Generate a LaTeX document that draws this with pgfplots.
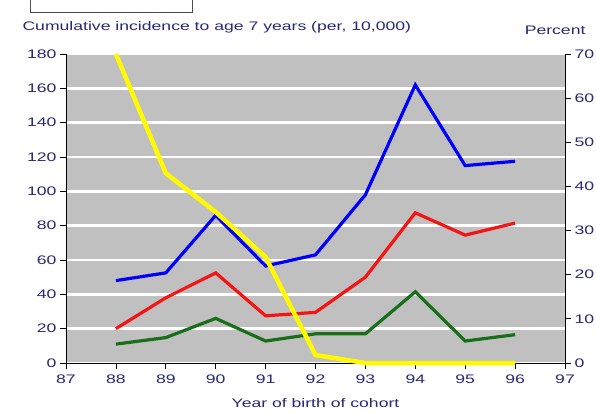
\documentclass[border=0pt]{standalone}
\usepackage{pgfplots}
\pgfplotsset{compat=1.18}
\usepackage{fontspec}
\setmainfont{Liberation Sans}[FakeStretch=1.42]

\definecolor{navytext}{RGB}{40,40,120}
\definecolor{bggray}{RGB}{192,192,192}
\definecolor{lblue}{RGB}{0,0,250}
\definecolor{lred}{RGB}{245,20,20}
\definecolor{lgreen}{RGB}{25,110,25}
\definecolor{lyellow}{RGB}{255,250,0}

\pgfplotsset{
  common/.style={
    scale only axis, width=499pt, height=309pt,
    at={(0,0)}, anchor=south west,
    xmin=87, xmax=97, clip=false,
    tick align=outside, major tick length=6pt,
    tick style={black, line width=0.8pt},
    axis line style={black, line width=0.9pt, -},
    ticklabel style={text=navytext, font=\fontsize{12.4}{14}\selectfont},
    /pgf/number format/assume math mode=true,
  },
}

\begin{document}
\begin{tikzpicture}
\path[use as bounding box] (-66pt,-49pt) rectangle (530pt,363pt);

% left axis: incidence per 10,000
\begin{axis}[common,
    ymin=0, ymax=180,
    xtick={87,...,97}, ytick={0,20,...,180},
    axis x line*=bottom, axis y line*=left,
    xticklabel style={yshift=-2pt},
    ymajorgrids, major grid style={white, line width=2.5pt},
    axis background/.style={fill=bggray},
]
\addplot[lblue, line width=3.2pt] coordinates {
  (88,48) (89,52.5) (90,86) (91,56.5) (92,63) (93,98) (94,162) (95,115) (96,117.5)
};
\addplot[lred, line width=3.2pt] coordinates {
  (88,20) (89,38) (90,52.5) (91,27.5) (92,29.5) (93,50) (94,87.5) (95,74.5) (96,81.5)
};
\addplot[lgreen, line width=3.2pt] coordinates {
  (88,11) (89,14.8) (90,26) (91,12.8) (92,17) (93,17) (94,41.5) (95,12.8) (96,16.5)
};
\end{axis}

% right axis: percent
\begin{axis}[common,
    ymin=0, ymax=70,
    ytick={0,10,...,70},
    axis x line=none, axis y line*=right,
]
\addplot[lyellow, line width=4.5pt] coordinates {
  (88,70) (89,43) (90,34.2) (91,24) (92,1.8) (93,0) (94,0) (95,0) (96,0)
};
\end{axis}

\node[anchor=west, text=navytext, font=\fontsize{12.4}{14}\selectfont] at (-47pt,336pt)
  {Cumulative incidence to age 7 years (per, 10,000)};
\node[anchor=east, text=navytext, font=\fontsize{12.4}{14}\selectfont] at (523pt,333pt)
  {Percent};
\node[text=navytext, font=\fontsize{12.4}{14}\selectfont] at (249.5pt,-40pt)
  {Year of birth of cohort};
\draw[black!70, line width=1pt] (-35pt,366pt) -- (-35pt,350pt) -- (126pt,350pt) -- (126pt,366pt);
\end{tikzpicture}
\end{document}
